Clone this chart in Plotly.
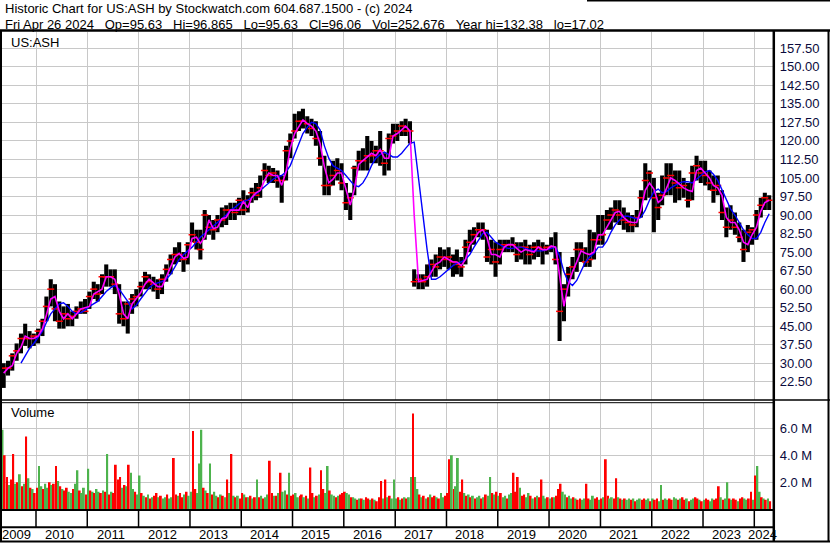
import pandas as pd
import plotly.graph_objects as go

# monthly price bars, May 2009 .. Apr 2024
high = [30, 31, 34, 38, 42, 46, 43, 42,
        44, 48, 57, 64, 62, 55, 53, 54, 51, 53, 55, 56,
        59, 63, 62, 66, 70, 68, 68, 62, 55, 55, 58, 60,
        63, 67, 66, 65, 64, 66, 70, 74, 77, 79, 75, 79,
        87, 84, 84, 92, 90, 88, 90, 93, 94, 95, 95, 97,
        100, 98, 101, 103, 106, 111, 110, 109, 108, 106, 118, 123,
        131, 132, 133, 130, 129, 128, 124, 114, 110, 112, 113, 111,
        103, 99, 110, 116, 117, 122, 120, 118, 124, 115, 123, 127,
        127, 128, 129, 128, 68, 66, 66, 70, 72, 74, 77, 76,
        77, 74, 76, 73, 80, 84, 85, 87, 87, 84, 80, 79,
        80, 80, 80, 81, 79, 79, 80, 78, 79, 80, 79, 78,
        81, 83, 75, 62, 69, 73, 79, 79, 77, 84, 83, 90,
        90, 92, 93, 96, 96, 93, 91, 90, 92, 100, 111, 108,
        105, 99, 106, 111, 111, 108, 108, 105, 103, 110, 114, 112,
        112, 108, 106, 106, 100, 93, 94, 91, 87, 84, 86, 85,
        92, 97, 99, 98]
low = [20, 25, 27, 31, 34, 37, 36, 37,
       38, 41, 47, 53, 47, 44, 44, 45, 45, 48, 50, 50,
       52, 56, 55, 58, 61, 61, 58, 46, 45, 42, 50, 53,
       57, 60, 60, 59, 56, 58, 63, 66, 70, 71, 67, 70,
       79, 76, 72, 80, 82, 80, 83, 85, 86, 88, 88, 90,
       90, 91, 95, 96, 97, 104, 103, 103, 101, 95, 104, 113,
       121, 124, 125, 123, 122, 118, 110, 98, 98, 102, 104, 100,
       92, 88, 98, 108, 108, 108, 111, 111, 110, 106, 108, 119,
       120, 122, 122, 119, 61, 60, 60, 61, 65, 65, 68, 69,
       68, 65, 66, 65, 70, 75, 78, 81, 80, 71, 70, 65,
       70, 75, 75, 75, 71, 72, 70, 70, 72, 73, 70, 74,
       75, 70, 39, 47, 57, 64, 67, 71, 69, 69, 72, 78,
       78, 84, 84, 87, 86, 84, 83, 83, 85, 89, 96, 97,
       83, 88, 94, 98, 98, 95, 96, 97, 93, 96, 104, 103,
       102, 100, 95, 98, 88, 81, 84, 82, 79, 71, 75, 78,
       80, 89, 92, 92]
close = [28, 28, 33, 35, 40, 40, 40, 41,
         43, 47, 53, 60, 52, 47, 50, 48, 49, 51, 52, 51,
         57, 60, 58, 65, 65, 65, 62, 50, 48, 54, 56, 57,
         61, 65, 63, 62, 60, 64, 68, 72, 74, 74, 72, 78,
         82, 79, 76, 90, 85, 84, 88, 88, 92, 92, 91, 96,
         92, 96, 99, 98, 101, 108, 106, 107, 104, 104, 116, 120,
         124, 128, 128, 127, 125, 121, 113, 102, 102, 106, 108, 103,
         95, 97, 109, 112, 112, 114, 114, 116, 116, 111, 121, 122,
         124, 126, 124, 124, 63, 64, 63, 65, 70, 69, 73, 72,
         73, 71, 70, 69, 77, 79, 82, 84, 84, 73, 76, 71,
         76, 78, 78, 78, 74, 77, 77, 74, 77, 77, 76, 77,
         77, 72, 51, 60, 66, 69, 76, 76, 71, 72, 80, 80,
         82, 88, 90, 92, 90, 88, 87, 86, 89, 97, 104, 107,
         97, 93, 98, 105, 106, 103, 101, 102, 96, 107, 110, 107,
         106, 103, 100, 102, 91, 85, 88, 85, 81, 76, 83, 84,
         90, 94, 97, 96]
# magenta (short) and blue (long) moving averages, monthly readings
ma_fast = [26, 28, 29, 34, 36.5, 41, 40, 40,
           41, 44, 49.5, 56, 57, 51, 48, 50, 48, 50, 52, 52.5,
           53, 58, 59, 60, 65, 65, 64, 58, 50, 48, 54, 56,
           58.5, 62, 64, 62.5, 61, 61, 65, 69, 73, 74.5, 72.5, 73,
           80.5, 81, 78.5, 81, 88, 84.5, 85, 88.5, 89, 92, 92, 92,
           95.5, 93, 97, 99, 100, 104, 107, 106, 106, 102, 107.5, 117,
           123, 126, 128.5, 127, 126, 124, 119, 109.5, 103, 104.5, 107, 107,
           100, 94, 100.5, 110.5, 112, 113.5, 115, 114, 116.5, 113, 113, 122,
           123, 124.5, 126, 124, 90, 63, 63.5, 64, 67, 70, 71, 73,
           72, 71, 71, 69.5, 72, 78, 80, 83, 84, 81, 74, 74,
           73, 77, 78, 78, 76.5, 75, 76, 75.5, 75, 77, 76, 76,
           77.5, 77, 64.5, 53, 61.5, 67, 71, 75.5, 74.5, 74, 75, 82,
           82, 85, 88, 91, 91.5, 89, 87.5, 87, 87, 92, 100, 103,
           100.5, 95, 96.5, 101, 105, 104, 102.5, 101, 100, 99.5, 108, 109,
           107, 105, 102, 101, 98, 89, 87, 87, 84, 79, 78, 82,
           85, 91.5, 95, 96]
ma_slow = [None, None, None, None, 30, 33, 36, 38,
           40.5, 43, 46.5, 50, 52, 54, 54.5, 53, 51, 50, 50.5, 51.5,
           53, 54, 55, 57, 59, 60.5, 61.5, 60, 57.5, 55, 52, 53.5,
           56, 58.5, 60.5, 62, 62.5, 63, 64, 66, 69, 72, 74, 75.5,
           77, 79, 81, 82.5, 84, 85.5, 87, 88.5, 90, 92, 93, 94.5,
           95.5, 96, 97, 98.5, 100, 101.5, 103, 104.5, 105.5, 106, 107.5, 110,
           114.5, 119, 123, 125.5, 127.5, 127, 124.5, 118, 113, 110, 109, 108,
           106, 104, 102, 101.5, 103, 106, 110, 113, 114.5, 115.5, 114.5, 113.5,
           113.5, 115, 117, 119, 119.5, 104, 90, 76, 64, 64, 65, 66.5,
           68, 69.5, 70.5, 71, 72, 74, 77, 80, 82.5, 83, 81, 79,
           78, 77, 76.5, 76.5, 77, 77, 76.5, 76, 75.5, 75.5, 75.5, 76,
           76.5, 77, 73.5, 67, 63, 61.5, 63.5, 67.5, 71, 73, 74.5, 77,
           77, 79.5, 83, 86, 88, 89.5, 89.5, 89, 88.5, 89, 92, 96,
           99.5, 100.5, 99, 99.5, 101, 102, 103, 103.5, 103.5, 103, 104.5, 106,
           107.5, 108, 106.5, 104, 100, 96, 92.5, 90, 87, 84, 82, 80.5,
           80.5, 83, 87, 90.5]

# half-month volume in millions, and up (g) / down (r) colour code
vol = [5.9, 4.0, 2.4, 1.8, 2.2, 4.1, 1.9, 2.0, 2.6, 1.7, 1.9, 5.4, 2.3, 1.6, 1.5, 1.2,
       1.6, 3.2, 1.7, 1.5, 1.9, 1.6, 2.0, 1.8, 1.9, 3.2, 2.1, 1.7, 1.5, 1.4, 1.6, 1.3, 1.2, 1.5, 1.9, 2.9, 1.4, 1.2, 1.6, 1.1,
       3.0, 1.4, 1.3, 1.2, 1.5, 1.3, 1.2, 1.4, 1.3, 4.1, 1.1, 1.3, 1.2, 3.3, 2.2, 2.4, 1.6, 1.8, 1.7, 3.3, 2.7, 1.5, 1.3, 1.1,
       2.5, 1.2, 1.0, 0.9, 1.1, 0.8, 0.9, 1.0, 1.2, 0.9, 1.0, 0.8, 0.9, 1.1, 0.8, 0.9, 3.8, 1.1, 1.0, 1.2, 0.9, 1.1, 1.3, 1.0,
       1.3, 5.8, 1.5, 1.2, 3.4, 5.9, 1.6, 1.4, 1.2, 3.4, 1.1, 1.3, 1.0, 0.9, 1.1, 1.0, 0.9, 2.2, 1.2, 4.1, 1.0, 0.9, 1.0, 0.8,
       1.2, 1.1, 0.9, 0.9, 1.0, 0.8, 0.9, 2.2, 0.9, 1.0, 0.8, 0.9, 1.1, 3.6, 1.2, 1.0, 1.0, 1.2, 2.7, 1.3, 1.4, 1.1, 2.7, 1.0,
       1.1, 1.2, 0.9, 1.0, 1.1, 0.9, 1.0, 0.8, 3.1, 1.2, 0.9, 1.0, 1.1, 2.9, 1.5, 1.2, 3.2, 1.4, 1.1, 1.0, 0.9, 1.0, 1.1, 1.2,
       1.3, 1.2, 1.1, 0.9, 0.9, 0.8, 0.7, 0.8, 0.8, 0.7, 0.9, 0.8, 0.7, 0.8, 0.7, 0.6, 0.9, 2.1, 0.8, 2.2, 0.9, 1.0, 0.8, 2.2,
       0.8, 0.9, 0.7, 0.8, 0.9, 0.8, 0.9, 2.4, 7.1, 2.4, 1.5, 1.1, 0.9, 1.0, 0.8, 0.9, 1.1, 0.9, 1.0, 0.9, 0.8, 1.2, 0.9, 1.0,
       1.2, 3.7, 4.0, 1.5, 1.7, 3.8, 1.3, 2.2, 1.2, 1.0, 1.1, 0.9, 1.0, 0.8, 0.9, 1.0, 0.8, 0.9, 1.1, 1.0, 2.4, 1.2, 1.1, 1.3,
       1.0, 1.2, 0.9, 1.0, 0.8, 1.1, 1.2, 2.7, 1.3, 2.4, 1.6, 1.0, 1.1, 0.9, 1.2, 1.0, 0.8, 0.9, 1.0, 0.9, 2.2, 1.0, 0.8, 0.9,
       0.8, 0.9, 0.9, 1.0, 1.5, 1.9, 1.3, 1.1, 0.9, 1.0, 0.8, 0.9, 0.8, 0.7, 0.8, 0.7, 0.8, 1.9, 0.8, 0.7, 1.0, 0.8, 0.9, 0.7,
       0.8, 0.9, 3.7, 1.0, 0.8, 0.9, 0.8, 2.3, 0.9, 0.8, 0.7, 0.8, 0.7, 0.8, 0.7, 0.8, 0.6, 0.7, 0.8, 0.7, 0.8, 0.7, 0.8, 0.6,
       0.8, 0.7, 0.8, 0.6, 1.8, 0.7, 0.8, 0.7, 0.8, 0.7, 0.9, 0.8, 0.7, 0.8, 0.9, 0.7, 0.8, 0.6, 0.7, 0.8, 0.9, 0.8, 0.7, 0.6,
       0.7, 0.8, 0.7, 0.6, 0.8, 0.7, 0.8, 1.7, 0.9, 0.7, 0.8, 2.0, 0.8, 0.7, 0.8, 0.7, 0.6, 0.8, 0.9, 0.8, 0.7, 0.8, 1.3, 0.7,
       2.5, 3.2, 1.3, 0.9, 0.8, 0.7, 0.8, 0.6]
vol_dir = ("grrgrrgrgrgrgrgr"
           "rggrggrgrrgrgrrggrggrggr"
           "grgrggrgrgrgrrrrgrgrggrg"
           "grgrgrgrrgrggrggrrgrrgrg"
           "grrgggrgrgrggrgrgrgrgrgr"
           "rgrgrgrgrgrggrrgrgrggrgr"
           "rggrrgrgrrgrgrrggrggrgrr"
           "rggrggrgrgrrgrgrrrgrgrgg"
           "grgrgrggrggrgrgrgrrgrggr"
           "rrgrggrrgrgrgrggrgrggrgr"
           "grggrggrrrgrrggrgrgrrggr"
           "grgrrrggrggrgrrggrrggrrg"
           "rgrrggrrgrgrggrgrggrrggr"
           "grrggrggrrggrgrrgrggrrgr"
           "grrggrrrgrggrgrrgrrggrrg"
           "rggrgrgr")

price_ticks = [22.5, 30, 37.5, 45, 52.5, 60, 67.5, 75, 82.5, 90, 97.5,
               105, 112.5, 120, 127.5, 135, 142.5, 150, 157.5]
vol_ticks = [2, 4, 6]
year_labels = ["2009", "2010", "2011", "2012", "2013", "2014", "2015", "2016",
               "2017", "2018", "2019", "2020", "2021", "2022", "2023", "2024"]

W, H = 830, 543


def px(x):
    return x / W


def py(y):
    return 1 - y / H


months = pd.date_range("2009-05-01", periods=len(high), freq="MS")
mid = months + pd.Timedelta(days=15)
half = []
for m in months:
    half += [m + pd.Timedelta(days=7), m + pd.Timedelta(days=22)]
half = half[:len(vol)]
day = 86400000

fig = go.Figure()
fig.add_trace(go.Bar(x=mid, y=[h - l for h, l in zip(high, low)], base=low,
                     width=29 * day, marker=dict(color="black", line_width=0),
                     xaxis="x", yaxis="y"))
fig.add_trace(go.Scatter(x=mid, y=close, mode="markers",
                         marker=dict(symbol="line-ew", size=5, line=dict(color="#ff0000", width=1.5)),
                         xaxis="x", yaxis="y"))
fig.add_trace(go.Scatter(x=mid, y=ma_slow, mode="lines", line=dict(color="#0000ff", width=1.4),
                         xaxis="x", yaxis="y"))
fig.add_trace(go.Scatter(x=mid, y=ma_fast, mode="lines", line=dict(color="#ff00ff", width=1.6),
                         xaxis="x", yaxis="y"))
fig.add_trace(go.Bar(x=half, y=vol, width=13 * day,
                     marker=dict(color=["#ff0000" if c == "r" else "#4db34d" for c in vol_dir], line_width=0),
                     xaxis="x2", yaxis="y2"))

grid = "#c8c8c8"
tick_font = dict(family="Liberation Sans, Arial", size=13, color="#0a0a3c")
xr = ["2009-05-04", "2024-05-11"]
fig.update_layout(
    width=W, height=H, margin=dict(l=0, r=0, t=0, b=0),
    paper_bgcolor="white", plot_bgcolor="white", showlegend=False, barmode="overlay",
    xaxis=dict(domain=[px(2), px(772.7)], type="date", range=xr, anchor="y",
               dtick="M12", tick0="2010-01-01", showgrid=True, gridcolor=grid,
               showticklabels=False, zeroline=False, showline=False),
    yaxis=dict(domain=[py(400), py(32)], range=[15.11, 164.1], side="right", anchor="x",
               tickvals=price_ticks, ticktext=["%.2f" % v for v in price_ticks],
               showgrid=True, gridcolor=grid, zeroline=False, showline=False,
               tickfont=tick_font, ticklabelstandoff=6),
    xaxis2=dict(domain=[px(2), px(772.7)], type="date", range=xr, anchor="y2", matches="x",
                dtick="M12", tick0="2010-01-01", showgrid=True, gridcolor=grid,
                showticklabels=False, zeroline=False, showline=False),
    yaxis2=dict(domain=[py(509.3), py(402.7)], range=[0, 7.9], side="right", anchor="x2",
                tickvals=vol_ticks, ticktext=["%.1f M" % v for v in vol_ticks],
                showgrid=True, gridcolor=grid, zeroline=False, showline=False,
                tickfont=tick_font, ticklabelstandoff=6),
)

# frame lines
blk = "black"
frame = [
    (587, 0.8, 830, 0.8, 1.5),
    (0, 30.5, 830, 30.5, 2.5), (1, 31, 1, 542, 2), (773.8, 31, 773.8, 542, 2.5), (828.5, 31, 828.5, 542, 2),
    (0, 400, 830, 400, 1.5), (0, 402.7, 773, 402.7, 1), (0, 510, 773, 510, 2),
    (0, 527.3, 773, 527.3, 2), (0, 541.5, 830, 541.5, 2),
]
shapes = [dict(type="line", xref="paper", yref="paper", x0=px(a), y0=py(b), x1=px(c), y1=py(d),
               line=dict(color=blk, width=w)) for a, b, c, d, w in frame]
for yl in year_labels[1:]:
    shapes.append(dict(type="line", xref="x2", yref="paper", x0=yl + "-01-01", x1=yl + "-01-01",
                       y0=py(510), y1=py(527.3), line=dict(color=blk, width=1.5)))
fig.update_layout(shapes=shapes)

txt = dict(family="Liberation Sans, Arial", size=13, color="black")
sp = "&nbsp;" * 3
ann = [
    dict(x=px(3), y=py(9), text="Historic Chart for US:ASH by Stockwatch.com 604.687.1500 - (c) 2024"),
    dict(x=px(3), y=py(25), text="Fri Apr 26 2024" + sp + "Op=95.63" + sp + "Hi=96.865" + sp + "Lo=95.63"
         + sp + "Cl=96.06" + sp + "Vol=252,676" + sp + "Year hi=132.38" + sp + "lo=17.02"),
    dict(x=px(9), y=py(42), text="US:ASH"),
    dict(x=px(9), y=py(413), text="Volume"),
]
for a in ann:
    a.update(xref="paper", yref="paper", xanchor="left", yanchor="middle", showarrow=False, font=txt)
for yl in year_labels:
    if yl == "2009":
        xpos = "2009-08-17"
    elif yl == "2024":
        xpos = "2024-02-28"
    else:
        xpos = yl + "-06-17"
    ann.append(dict(x=xpos, y=py(534.5), xref="x2", yref="paper", text=yl, showarrow=False,
                    xanchor="center", yanchor="middle", font=txt))
fig.update_layout(annotations=ann)

fig.write_html("out.html", config={"displayModeBar": False},
               post_script="document.body.style.margin='0';document.body.style.overflow='hidden';")
